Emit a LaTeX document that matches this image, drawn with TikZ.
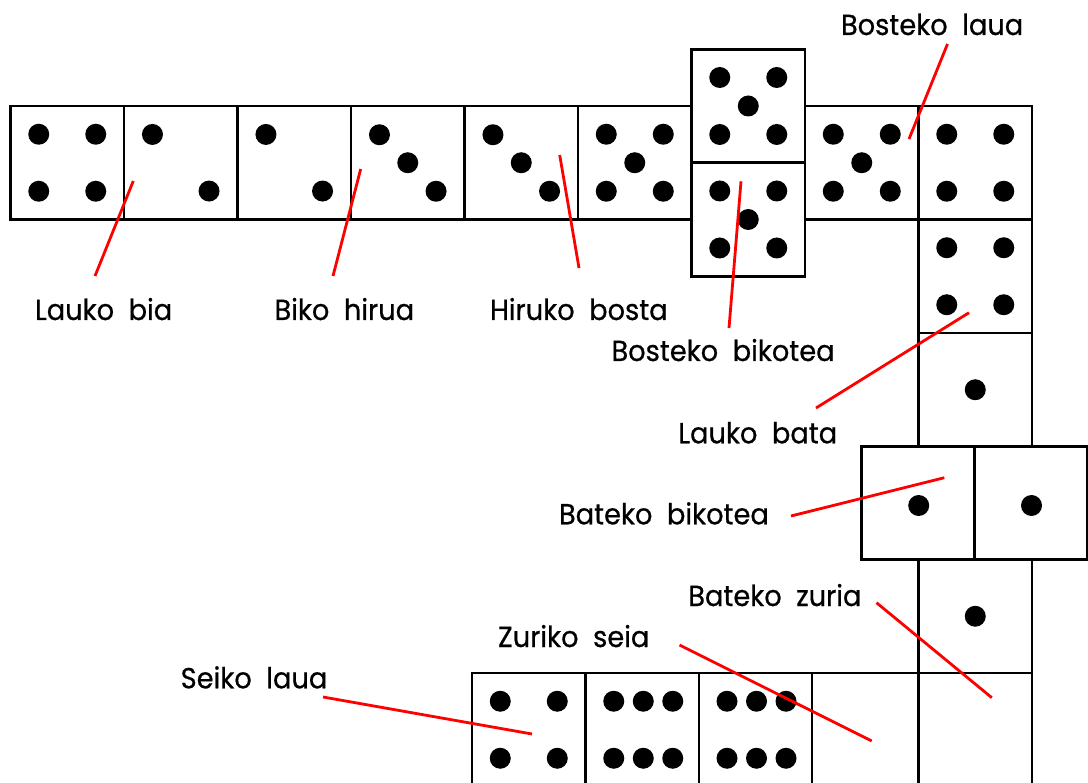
\documentclass[tikz,border=0pt]{standalone}
\usepackage{fontspec}
\setmainfont{Poppins}[FakeStretch=0.94,FakeBold=0.6]
\begin{document}
\begin{tikzpicture}[x=1pt,y=-1pt,
  sq/.style={draw=black,line width=2.7pt,fill=white,minimum width=113.5pt,minimum height=113.5pt,inner sep=0pt,outer sep=0pt},
  pip/.style={fill=black},
  lbl/.style={anchor=base west,inner sep=0pt,outer sep=0pt,font=\fontsize{29}{32}\selectfont},
  ptr/.style={draw=red,line width=2.8pt}]
\useasboundingbox (0,0) rectangle (1088,783);
\newcommand\dieone[1]{\fill[pip,shift={(#1.center)}] (0,0) circle[radius=10.5];}
\newcommand\dietwo[1]{\fill[pip,shift={(#1.center)}] (-28.3,-28.3) circle[radius=10.5] (28.3,28.3) circle[radius=10.5];}
\newcommand\diethree[1]{\fill[pip,shift={(#1.center)}] (-28.3,-28) circle[radius=10.5] (0,0) circle[radius=10.5] (28.3,28.5) circle[radius=10.5];}
\newcommand\diefour[1]{\fill[pip,shift={(#1.center)}] (-28.5,-28.5) circle[radius=10.5] (28.5,-28.5) circle[radius=10.5] (-28.5,28.5) circle[radius=10.5] (28.5,28.5) circle[radius=10.5];}
\newcommand\diefive[1]{\fill[pip,shift={(#1.center)}] (-28.5,-28.5) circle[radius=10.5] (28.5,-28.5) circle[radius=10.5] (0,0) circle[radius=10.5] (-28.5,28.5) circle[radius=10.5] (28.5,28.5) circle[radius=10.5];}
\newcommand\diesix[1]{\fill[pip,shift={(#1.center)}] (-28.5,-28.5) circle[radius=10.5] (1,-28.5) circle[radius=10.5] (30.5,-28.5) circle[radius=10.5] (-28.5,28.5) circle[radius=10.5] (1,28.5) circle[radius=10.5] (30.5,28.5) circle[radius=10.5];}
% top row
\node[sq] (t1) at (67.25,162.75) {};
\node[sq] (t2) at (180.75,162.75) {};
\node[sq] (t3) at (294.25,162.75) {};
\node[sq] (t4) at (407.75,162.75) {};
\node[sq] (t5) at (521.25,162.75) {};
\node[sq] (t6) at (634.75,162.75) {};
\node[sq] (v1) at (748.25,106) {};
\node[sq] (v2) at (748.25,219.5) {};
\node[sq] (t7) at (861.75,162.75) {};
\node[sq] (t8) at (975.25,162.75) {};
% right column
\node[sq] (c1) at (975.25,276.25) {};
\node[sq] (c2) at (975.25,389.75) {};
\node[sq,minimum width=113pt] (h1) at (918.3,503) {};
\node[sq,minimum width=112pt] (h2) at (1031,503) {};
\node[sq] (c3) at (975.25,616.25) {};
\node[sq] (c4) at (975.25,729.75) {};
% bottom row
\node[sq] (b1) at (528.75,729.75) {};
\node[sq] (b2) at (642.25,729.75) {};
\node[sq,minimum width=113pt] (b3) at (755.5,729.75) {};
\node[sq,minimum width=106.5pt] (b4) at (865.25,729.75) {};
% pips
\diefour{t1}
\dietwo{t2}
\dietwo{t3}
\diethree{t4}
\diethree{t5}
\diefive{t6}
\diefive{v1}
\diefive{v2}
\diefive{t7}
\diefour{t8}
\diefour{c1}
\dieone{c2}
\fill[pip] (918.7,505.5) circle[radius=10.5];
\fill[pip] (1031.5,505.5) circle[radius=10.5];
\dieone{c3}
\diefour{b1}
\diesix{b2}
\diesix{b3}
% labels
\node[lbl] (l1) at (35,320) {Lauko\ \ bia};
\node[lbl] (l2) at (274.5,320) {Biko\ \ hirua};
\node[lbl] (l3) at (490,320) {Hiruko\ \ bosta};
\node[lbl] (l4) at (611.5,361) {Bosteko\ \ bikotea};
\node[lbl] (l5) at (841,35) {Bosteko\ \ laua};
\node[lbl] (l6) at (678.3,443.3) {Lauko\ \ bata};
\node[lbl] (l7) at (559,524.3) {Bateko\ \ bikotea};
\node[lbl] (l8) at (688.3,606) {Bateko\ \ zuria};
\node[lbl] (l9) at (498,647) {Zuriko\ \ seia};
\node[lbl] (l10) at (180.7,688.3) {Seiko\ \ laua};
% pointer ends
\coordinate (p1a) at (95,276);   \coordinate (p1b) at (133.3,181);
\coordinate (p2a) at (333,276);  \coordinate (p2b) at (360.7,169);
\coordinate (p3a) at (579,268);  \coordinate (p3b) at (559.7,155);
\coordinate (p4a) at (729,328);  \coordinate (p4b) at (741,181.3);
\coordinate (p5a) at (947.5,44); \coordinate (p5b) at (909,139);
\coordinate (p6a) at (816,408);  \coordinate (p6b) at (969,312.7);
\coordinate (p7a) at (791,516);  \coordinate (p7b) at (944.3,477.7);
\coordinate (p8a) at (876.5,602.7); \coordinate (p8b) at (991.8,697.7);
\coordinate (p9a) at (679.5,645);   \coordinate (p9b) at (871.7,741);
\coordinate (p10a) at (323,697);    \coordinate (p10b) at (532,734);
\draw[ptr] (p1a) -- (p1b);
\draw[ptr] (p2a) -- (p2b);
\draw[ptr] (p3a) -- (p3b);
\draw[ptr] (p4a) -- (p4b);
\draw[ptr] (p5a) -- (p5b);
\draw[ptr] (p6a) -- (p6b);
\draw[ptr] (p7a) -- (p7b);
\draw[ptr] (p8a) -- (p8b);
\draw[ptr] (p9a) -- (p9b);
\draw[ptr] (p10a) -- (p10b);
\end{tikzpicture}
\end{document}
